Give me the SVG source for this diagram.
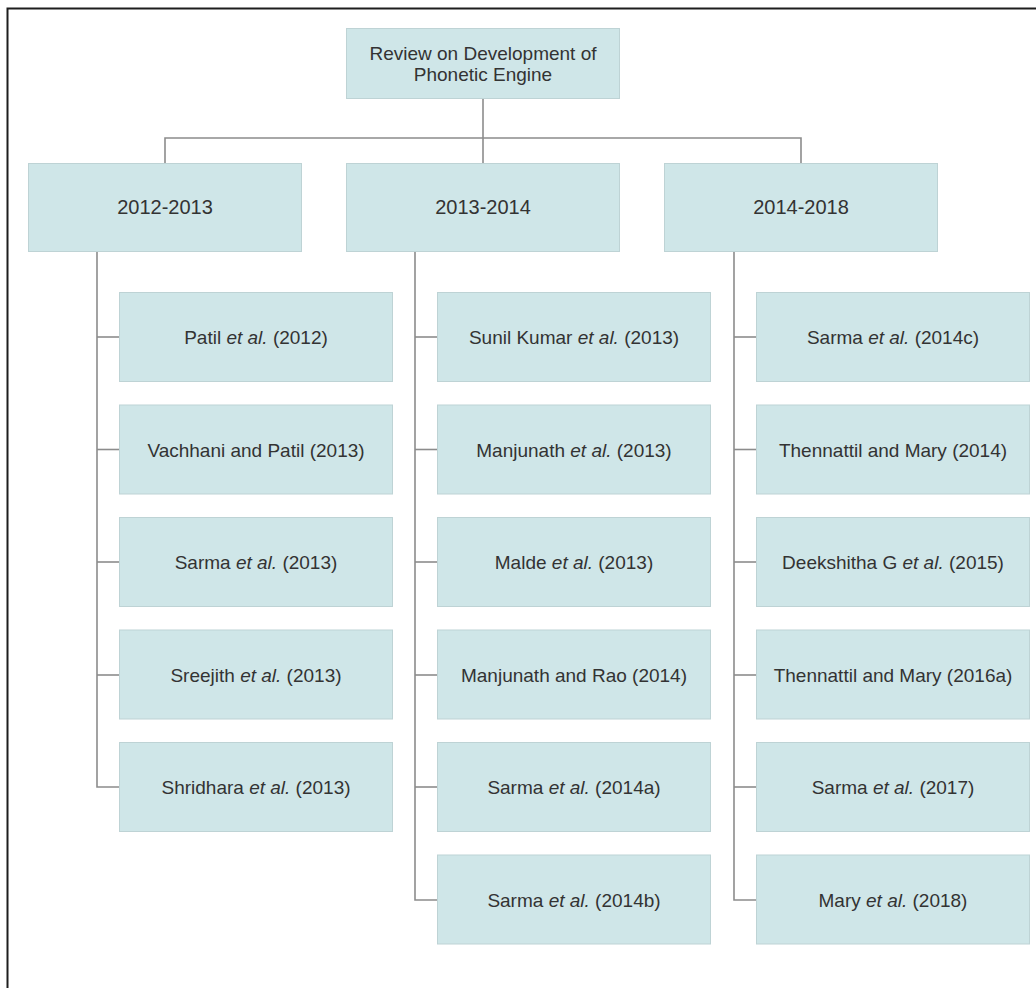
<svg xmlns="http://www.w3.org/2000/svg" width="1036" height="988" viewBox="0 0 1036 988">
  <style>
    .box { fill: #cfe6e8; stroke: #bed3d5; stroke-width: 1; }
    .lbl { font-family: "Liberation Sans", Arial, sans-serif; font-size: 19px; fill: #333333; text-anchor: middle; }
    .cat { font-size: 20px; }
    .wire { fill: none; stroke: #8c8c8c; stroke-width: 1.6; }
    .frame { fill: none; stroke: #1e1e1e; stroke-width: 2; }
  </style>
  <rect width="1036" height="988" fill="#ffffff"/>
  <!-- outer frame (top and left edges) -->
  <path class="frame" d="M7.5,988 V8.5 H1036"/>

  <!-- connectors -->
  <g id="connectors">
    <path class="wire" d="M483,98 V138"/>
    <path class="wire" d="M165,163 V138 H801 V163"/>
    <path class="wire" d="M483,138 V163"/>
    <!-- 2012-2013 branch -->
    <path class="wire" d="M97,251 V787 H119"/>
    <path class="wire" d="M97,337 H119"/>
    <path class="wire" d="M97,449.5 H119"/>
    <path class="wire" d="M97,562 H119"/>
    <path class="wire" d="M97,675 H119"/>
    <!-- 2013-2014 branch -->
    <path class="wire" d="M415,251 V900 H437"/>
    <path class="wire" d="M415,337 H437"/>
    <path class="wire" d="M415,449.5 H437"/>
    <path class="wire" d="M415,562 H437"/>
    <path class="wire" d="M415,675 H437"/>
    <path class="wire" d="M415,787 H437"/>
    <!-- 2014-2018 branch -->
    <path class="wire" d="M734,251 V900 H756"/>
    <path class="wire" d="M734,337 H756"/>
    <path class="wire" d="M734,449.5 H756"/>
    <path class="wire" d="M734,562 H756"/>
    <path class="wire" d="M734,675 H756"/>
    <path class="wire" d="M734,787 H756"/>
  </g>

  <!-- root -->
  <g id="root">
    <rect class="box" x="346.5" y="28.5" width="273" height="70"/>
    <text class="lbl" x="483" y="60">Review on Development of</text>
    <text class="lbl" x="483" y="81">Phonetic Engine</text>
  </g>

  <!-- period headers -->
  <g id="p2012">
    <rect class="box" x="28.5" y="163.5" width="273" height="88"/>
    <text class="lbl cat" x="165" y="214">2012-2013</text>
  </g>
  <g id="p2013">
    <rect class="box" x="346.5" y="163.5" width="273" height="88"/>
    <text class="lbl cat" x="483" y="214">2013-2014</text>
  </g>
  <g id="p2014">
    <rect class="box" x="664.5" y="163.5" width="273" height="88"/>
    <text class="lbl cat" x="801" y="214">2014-2018</text>
  </g>

  <!-- 2012-2013 works -->
  <g id="c1r1">
    <rect class="box" x="119.5" y="292.5" width="273" height="89"/>
    <text class="lbl" x="256" y="344">Patil <tspan font-style="italic">et al.</tspan> (2012)</text>
  </g>
  <g id="c1r2">
    <rect class="box" x="119.5" y="405" width="273" height="89"/>
    <text class="lbl" x="256" y="456.5">Vachhani and Patil (2013)</text>
  </g>
  <g id="c1r3">
    <rect class="box" x="119.5" y="517.5" width="273" height="89"/>
    <text class="lbl" x="256" y="569">Sarma <tspan font-style="italic">et al.</tspan> (2013)</text>
  </g>
  <g id="c1r4">
    <rect class="box" x="119.5" y="630" width="273" height="89"/>
    <text class="lbl" x="256" y="681.5">Sreejith <tspan font-style="italic">et al.</tspan> (2013)</text>
  </g>
  <g id="c1r5">
    <rect class="box" x="119.5" y="742.5" width="273" height="89"/>
    <text class="lbl" x="256" y="794">Shridhara <tspan font-style="italic">et al.</tspan> (2013)</text>
  </g>

  <!-- 2013-2014 works -->
  <g id="c2r1">
    <rect class="box" x="437.5" y="292.5" width="273" height="89"/>
    <text class="lbl" x="574" y="344">Sunil Kumar <tspan font-style="italic">et al.</tspan> (2013)</text>
  </g>
  <g id="c2r2">
    <rect class="box" x="437.5" y="405" width="273" height="89"/>
    <text class="lbl" x="574" y="456.5">Manjunath <tspan font-style="italic">et al.</tspan> (2013)</text>
  </g>
  <g id="c2r3">
    <rect class="box" x="437.5" y="517.5" width="273" height="89"/>
    <text class="lbl" x="574" y="569">Malde <tspan font-style="italic">et al.</tspan> (2013)</text>
  </g>
  <g id="c2r4">
    <rect class="box" x="437.5" y="630" width="273" height="89"/>
    <text class="lbl" x="574" y="681.5">Manjunath and Rao (2014)</text>
  </g>
  <g id="c2r5">
    <rect class="box" x="437.5" y="742.5" width="273" height="89"/>
    <text class="lbl" x="574" y="794">Sarma <tspan font-style="italic">et al.</tspan> (2014a)</text>
  </g>
  <g id="c2r6">
    <rect class="box" x="437.5" y="855" width="273" height="89"/>
    <text class="lbl" x="574" y="906.5">Sarma <tspan font-style="italic">et al.</tspan> (2014b)</text>
  </g>

  <!-- 2014-2018 works -->
  <g id="c3r1">
    <rect class="box" x="756.5" y="292.5" width="273" height="89"/>
    <text class="lbl" x="893" y="344">Sarma <tspan font-style="italic">et al.</tspan> (2014c)</text>
  </g>
  <g id="c3r2">
    <rect class="box" x="756.5" y="405" width="273" height="89"/>
    <text class="lbl" x="893" y="456.5">Thennattil and Mary (2014)</text>
  </g>
  <g id="c3r3">
    <rect class="box" x="756.5" y="517.5" width="273" height="89"/>
    <text class="lbl" x="893" y="569">Deekshitha G <tspan font-style="italic">et al.</tspan> (2015)</text>
  </g>
  <g id="c3r4">
    <rect class="box" x="756.5" y="630" width="273" height="89"/>
    <text class="lbl" x="893" y="681.5">Thennattil and Mary (2016a)</text>
  </g>
  <g id="c3r5">
    <rect class="box" x="756.5" y="742.5" width="273" height="89"/>
    <text class="lbl" x="893" y="794">Sarma <tspan font-style="italic">et al.</tspan> (2017)</text>
  </g>
  <g id="c3r6">
    <rect class="box" x="756.5" y="855" width="273" height="89"/>
    <text class="lbl" x="893" y="906.5">Mary <tspan font-style="italic">et al.</tspan> (2018)</text>
  </g>
</svg>
